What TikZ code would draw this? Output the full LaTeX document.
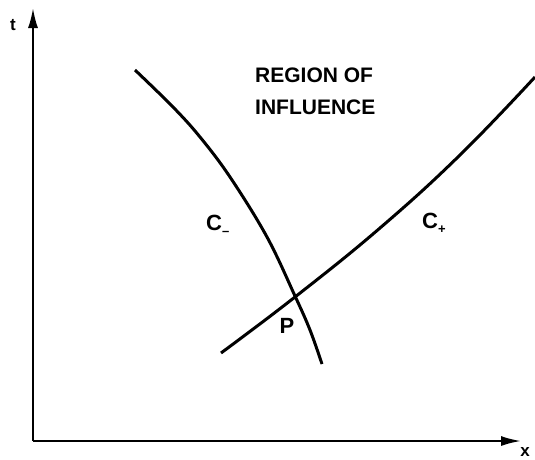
\documentclass[tikz,border=0pt]{standalone}
\usepackage{fontspec}
\setmainfont{Liberation Sans}
\usetikzlibrary{arrows.meta}
\tikzset{
  axis/.style={line width=2pt,-{Latex[length=20pt,width=10pt]}},
  curve/.style={line width=3pt},
  lbl/.style={font=\bfseries\fontsize{21}{23}\selectfont, inner sep=0pt},
  clbl/.style={font=\bfseries\fontsize{22}{24}\selectfont, inner sep=0pt},
  axlbl/.style={font=\bfseries\fontsize{17}{19}\selectfont, inner sep=0pt}
}
\newcommand{\subsym}[1]{\raisebox{-5pt}{\fontsize{13}{13}\selectfont #1}}
\begin{document}
\begin{tikzpicture}[x=1pt,y=-1pt]
\useasboundingbox (0,0) rectangle (535,459);
\coordinate (O) at (33,441);
\coordinate (T) at (33,8);
\coordinate (X) at (521,441);
\draw[axis] (O) -- (T);
\draw[axis] (O) -- (X);
\node[axlbl] (tl) at (13,25) {t};
\node[axlbl] (xl) at (525,452) {x};
\draw[curve] plot[smooth, tension=0.6] coordinates {(135,70) (173,107) (200,137) (230,177) (267,237) (295,296) (310,330) (322,364)};
\draw[curve] plot[smooth, tension=0.7] coordinates {(221,353) (295,297) (380,228) (460,155) (535,77)};
\node[lbl, anchor=west] (r1) at (255,75) {REGION OF};
\node[lbl, anchor=west] (r2) at (255,107) {INFLUENCE};
\node[clbl, anchor=west] (cm) at (206,225) {C\subsym{–}};
\node[clbl, anchor=west] (cp) at (422,223) {C\subsym{+}};
\node[clbl] (p) at (287,326) {P};
\end{tikzpicture}
\end{document}
